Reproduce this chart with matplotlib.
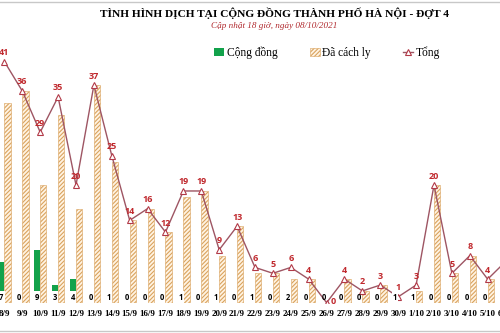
import matplotlib
matplotlib.use("Agg")
import matplotlib.pyplot as plt
from matplotlib.lines import Line2D
import numpy as np

dates = ["8/9", "9/9", "10/9", "11/9", "12/9", "13/9", "14/9", "15/9", "16/9", "17/9",
         "18/9", "19/9", "20/9", "21/9", "22/9", "23/9", "24/9", "25/9", "26/9", "27/9",
         "28/9", "29/9", "30/9", "1/10", "2/10", "3/10", "4/10", "5/10", "6/10"]
cong_dong = [7, 0, 9, 3, 4, 0, 1, 0, 0, 0, 1, 0, 1, 0, 1, 0, 2, 0, 0, 0, 0, 0, 1, 1, 0, 0, 0, 0, 0]
cach_ly = [34, 36, 20, 32, 16, 37, 24, 14, 16, 12, 18, 19, 8, 13, 5, 5, 4, 4, 0, 4, 2, 3, 0, 2, 20, 5, 8, 4, 7]
tong = [41, 36, 29, 35, 20, 37, 25, 14, 16, 12, 19, 19, 9, 13, 6, 5, 6, 4, 0, 4, 2, 3, 1, 3, 20, 5, 8, 4, 7]

plt.rcParams['hatch.linewidth'] = 0.8
serif = ['Liberation Serif', 'DejaVu Serif']

fig = plt.figure(figsize=(5, 3.33), dpi=100)
ax = fig.add_axes([-0.0091, 0.091, 1.0382, 0.7946])

x = np.arange(len(dates))
w = 0.35
green = '#12A24B'
tan = '#D9A35E'
b1 = ax.bar(x - w / 2, cong_dong, width=w, color=green, edgecolor='none', zorder=2, label='Cộng đồng')
b2 = ax.bar(x + w / 2, cach_ly, width=w, facecolor='#FFF3E2', edgecolor=tan, hatch='////////',
            linewidth=0.4, zorder=2, label='Đã cách ly')
l1, = ax.plot(x, tong, color='#9E5563', lw=1.0, marker='^', markersize=4.5,
              markerfacecolor='white', markeredgecolor='#B23A48', markeredgewidth=0.8,
              zorder=3, label='Tổng')

for xi, t in zip(x, tong):
    off = (0, 6.5) if t > 0 else (5, 1)
    ax.annotate(str(t), (xi, t), xytext=off, textcoords='offset points',
                ha='center', va='center', color='#C0282D', fontsize=6.5,
                fontweight='bold', family=['Open Sans', 'DejaVu Sans'], zorder=4)

for xi, c in zip(x, cong_dong):
    kw = {}
    if c > 0:
        kw['bbox'] = dict(boxstyle='square,pad=0.15', facecolor='white', edgecolor='none')
    ax.text(xi - w / 2, 0.95, str(c), ha='center', va='center', fontsize=5.5,
            fontweight='bold', color='black', family=['Open Sans', 'DejaVu Sans'],
            zorder=5, **kw)

ax.set_xlim(-0.5, len(dates) - 0.5)
ax.set_ylim(0, 45)
ax.set_xticks(x)
ax.set_xticklabels(dates, family=serif, fontsize=6.5, fontweight='bold')
ax.tick_params(axis='x', length=0, pad=5)
ax.set_yticks([])
for s in ax.spines.values():
    s.set_visible(False)
ax.patch.set_alpha(0)

fig.text(0.55, 1 - 13.5 / 333, 'TÌNH HÌNH DỊCH TẠI CỘNG ĐỒNG THÀNH PHỐ HÀ NỘI - ĐỢT 4',
         ha='center', va='center', family=serif, fontweight='bold', fontsize=8.2)
fig.text(0.548, 1 - 25.5 / 333, 'Cập nhật 18 giờ, ngày 08/10/2021',
         ha='center', va='center', family=serif, style='italic', fontsize=6.6, color='#B0282D')

fig.legend([b1, b2, l1], ['Cộng đồng', 'Đã cách ly', 'Tổng'], loc='center',
           bbox_to_anchor=(0.654, 1 - 52.7 / 333), ncol=3,
           frameon=False, prop={'family': serif, 'size': 8.3}, handlelength=0.9,
           handleheight=0.6, handletextpad=0.2, columnspacing=2.8)

fig.add_artist(Line2D([0, 1], [1 - 1.5 / 333, 1 - 1.5 / 333], transform=fig.transFigure,
                      color='#C8C8C8', lw=1))
fig.add_artist(Line2D([0, 1], [1 - 330.5 / 333, 1 - 330.5 / 333], transform=fig.transFigure,
                      color='#C8C8C8', lw=1))

fig.savefig('out.png', dpi=100)
